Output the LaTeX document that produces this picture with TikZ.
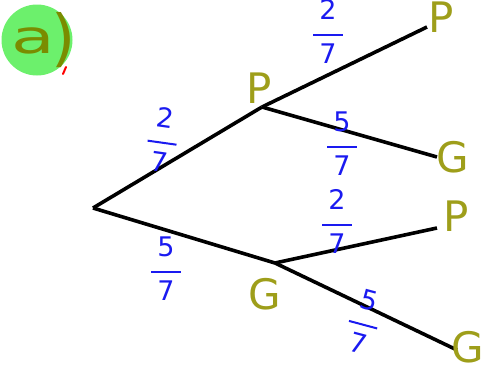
\documentclass[tikz,border=0pt]{standalone}
\usepackage{fontspec}
\setmainfont{DejaVu Sans}
\definecolor{olivehand}{HTML}{9E9E1A}
\definecolor{bluehand}{HTML}{1A1AF0}
\definecolor{blobgreen}{HTML}{6CF06C}
\definecolor{agreen}{HTML}{7A8C00}
\newcommand{\hfr}[2]{{\setlength{\arrayrulewidth}{2pt}\renewcommand{\arraystretch}{1.15}%
  \begin{tabular}{@{\hspace{6pt}}c@{\hspace{6pt}}}#1\\[4pt]\hline\rule{0pt}{28pt}#2\end{tabular}}}
\begin{document}
\begin{tikzpicture}[x=1pt,y=-1pt,
  branch/.style={line width=3.6pt,black},
  outcome/.style={text=olivehand,font=\fontsize{42}{44}\selectfont,inner sep=0pt},
  prob/.style={text=bluehand,font=\fontsize{27}{29}\selectfont,inner sep=0pt}]
\useasboundingbox (0,0) rectangle (488,373);
% label a)
\fill[blobgreen] (37,40) circle[radius=35.5];
\node[text=agreen,font=\fontsize{46}{48}\selectfont,inner sep=0pt,xscale=1.55] (laba) at (33,41) {a};
\node[text=agreen,font=\fontsize{62}{64}\selectfont,inner sep=0pt] (labp) at (64,40) {)};
\draw[red,line width=2pt,line cap=round] (66,67) -- (63,74);
% tree coordinates
\coordinate (root) at (93,208);
\coordinate (p1) at (262,107);
\coordinate (g1) at (275,263);
\coordinate (pp) at (427,27);
\coordinate (pg) at (437,157);
\coordinate (gp) at (437,228);
\coordinate (gg) at (457,350);
\draw[branch] (root) -- (p1);
\draw[branch] (root) -- (g1);
\draw[branch] (p1) -- (pp);
\draw[branch] (p1) -- (pg);
\draw[branch] (g1) -- (gp);
\draw[branch] (g1) -- (gg);
% outcome letters
\node[outcome] (lp1) at (259,88) {P};
\node[outcome] (lpp) at (441,17) {P};
\node[outcome] (lpg) at (453,157) {G};
\node[outcome] (lgp) at (456,216) {P};
\node[outcome] (lg1) at (265,294) {G};
\node[outcome] (lgg) at (468,347) {G};
% probabilities
\node[prob,rotate=-8] (f1) at (162,143) {\hfr{2}{7}};
\node[prob] (f2) at (166,272) {\hfr{5}{7}};
\node[prob] (f3) at (328,35) {\hfr{2}{7}};
\node[prob] (f4) at (342,147) {\hfr{5}{7}};
\node[prob] (f5) at (337,225) {\hfr{2}{7}};
\node[prob,rotate=-15] (f6) at (363,325) {\hfr{5}{7}};
\end{tikzpicture}
\end{document}
